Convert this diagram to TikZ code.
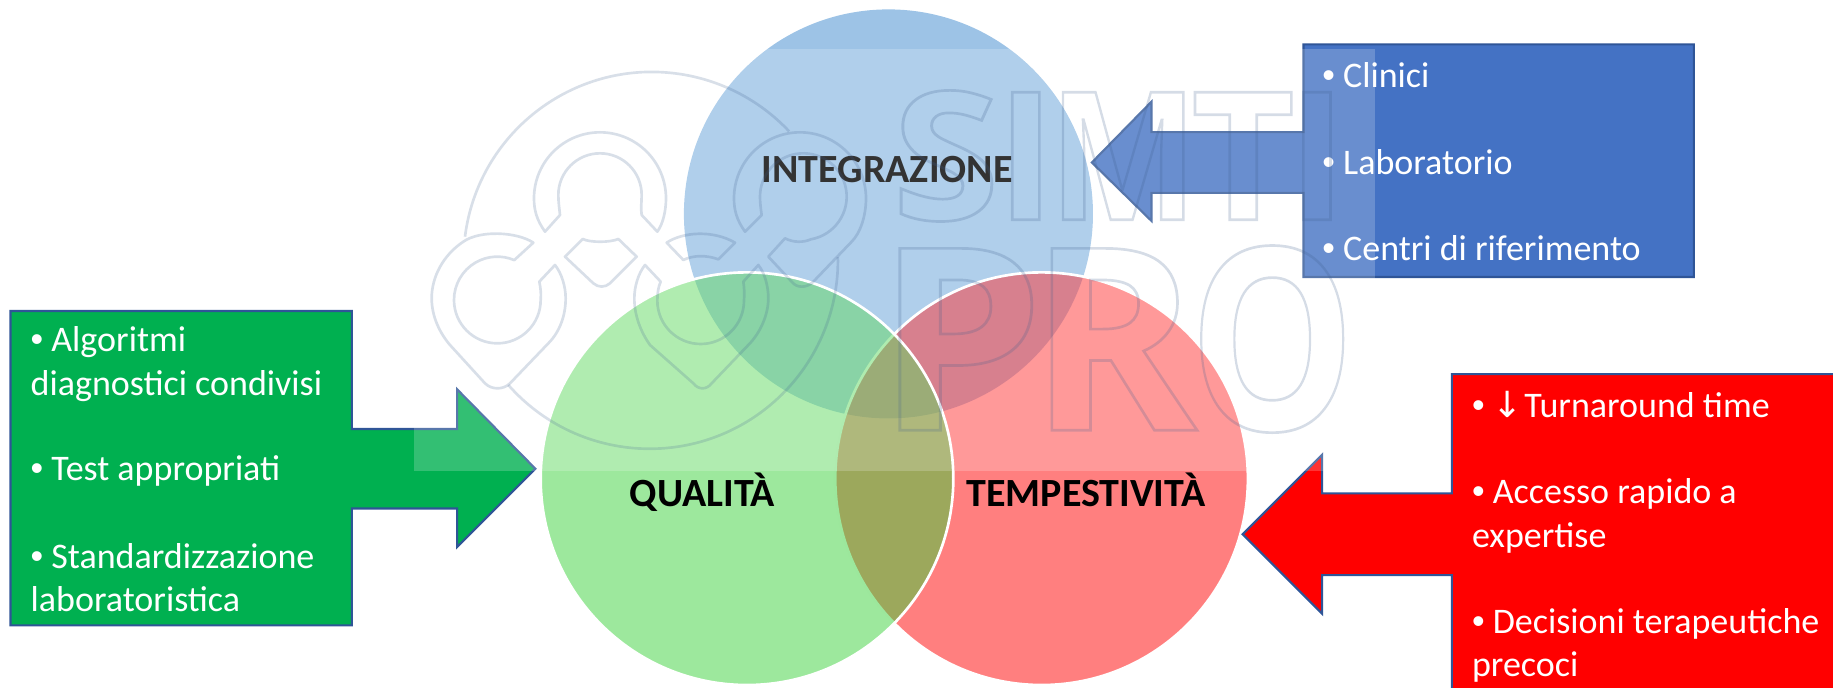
\documentclass[tikz,border=0pt]{standalone}
\usepackage{fontspec}
\setmainfont{Carlito}
\newfontfamily\wmfont{Open Sans}
\newfontfamily\bulfont{Liberation Sans}
\newfontfamily\arrowfont{DejaVu Sans}
\definecolor{bluefill}{HTML}{4472C4}
\definecolor{greenfill}{HTML}{00B050}
\definecolor{edgeblue}{HTML}{2F5597}
\definecolor{vennblue}{HTML}{5B9BD5}
\definecolor{venngreen}{HTML}{3BD13B}
\definecolor{wmline}{HTML}{3F5F8F}
\tikzset{
  callout/.style={draw=edgeblue,line width=1.6pt,line join=miter},
  venn/.style={circle,minimum size=306.8pt,inner sep=0pt},
  vennb/.style={circle,minimum size=309.5pt,inner sep=0pt,draw=white,draw opacity=1,line width=2pt},
  item/.style={anchor=base west,text=white,inner sep=0pt,font=\fontsize{27}{33}\selectfont},
  vlabel/.style={anchor=base,inner sep=0pt,font=\fontsize{30}{36}\selectfont\bfseries},
  wm/.style={draw=wmline,draw opacity=.2,line width=2pt,line join=round},
  wmsmall/.style={inner sep=0pt,anchor=base west,transform shape,font=\wmfont\bfseries\fontsize{134}{134}\selectfont},
  wmbig/.style={inner sep=0pt,anchor=base west,transform shape,font=\wmfont\bfseries\fontsize{191}{191}\selectfont},
}
\newcommand{\outlined}[1]{\special{pdf:code q 1 Tr 2 w 0.247 0.373 0.561 RG}#1\special{pdf:code Q}}
\newcommand{\bul}{{\bulfont •}}
\begin{document}
\begin{tikzpicture}[x=0.87675pt,y=-0.87675pt]
\useasboundingbox (0,0) rectangle (1568,587.7);
\clip (0,0) rectangle (1568,587.7);
% Venn circles
\node[venn,fill=vennblue,fill opacity=.6] (cblue) at (760,183) {};
\node[vennb,fill=red,fill opacity=.5] (cred) at (891,409.5) {};
\node[vennb,fill=venngreen,fill opacity=.5] (cgreen) at (639,409.5) {};
\node[vlabel,text=black] (lint) at (759,156) {INTEGRAZIONE};
\node[vlabel] (lqua) at (601,433) {QUALITÀ};
\node[vlabel] (ltem) at (929,433) {TEMPESTIVITÀ};
% Callouts
\fill[greenfill] (9,266) -- (301,266) -- (301,367) -- (391,367) -- (391,333) -- (458,401) -- (391,468) -- (391,435) -- (301,435) -- (301,535) -- (9,535) -- cycle;
\draw[callout] (9,266) -- (301,266) -- (301,367) -- (391,367) -- (391,333) -- (458,401) -- (391,468) -- (391,435) -- (301,435) -- (301,535) -- (9,535) -- cycle;
\filldraw[callout,fill=bluefill] (1115,38) -- (1449,38) -- (1449,237) -- (1115,237) -- (1115,165) -- (985,165) -- (985,189) -- (934,139) -- (985,87) -- (985,113) -- (1115,113) -- cycle;
\filldraw[callout,fill=red] (1242,320) -- (1600,320) -- (1600,620) -- (1242,620) -- (1242,492) -- (1131,492) -- (1131,525) -- (1063,457) -- (1131,389) -- (1131,422) -- (1242,422) -- cycle;
% Texts
\node[item] (g1) at (26,301) {\bul{} Algoritmi};
\node[item] (g2) at (26,338) {diagnostici condivisi};
\node[item] (g3) at (26,411) {\bul{} Test appropriati};
\node[item] (g4) at (26,486) {\bul{} Standardizzazione};
\node[item] (g5) at (26,523) {laboratoristica};
\node[item] (b1) at (1131,75) {\bul{} Clinici};
\node[item] (b2) at (1131,149) {\bul{} Laboratorio};
\node[item] (b3) at (1131,223) {\bul{} Centri di riferimento};
\node[item] (r1) at (1259,357) {\bul{} {\arrowfont↓}\kern1pt Turnaround time};
\node[item] (r2) at (1259,431) {\bul{} Accesso rapido a};
\node[item] (r3) at (1259,468) {expertise};
\node[item] (r4) at (1259,542) {\bul{} Decisioni terapeutiche};
\node[item] (r5) at (1259,579) {precoci};
% Watermark band
\fill[white,fill opacity=.2] (354,42) rectangle (1176,403);
% Watermark letters
\begin{scope}[draw opacity=.22]
\node[wmsmall,xscale=1.09] (w1) at (763,188) {\outlined{S}};
\node[wmsmall] (w2) at (852,188) {\outlined{I}};
\node[wmsmall,xscale=.883] (w3) at (897,188) {\outlined{M}};
\node[wmsmall] (w4) at (1019,188) {\outlined{T}};
\node[wmsmall] (w5) at (1101,188) {\outlined{I}};
\node[wmbig,xscale=1.05] (w6) at (749,368) {\outlined{P}};
\node[wmbig] (w7) at (880,368) {\outlined{R}};
\node[wmbig,xscale=.82] (w8) at (1017,368) {\outlined{O}};
\end{scope}
% Watermark logo
\begin{scope}[shift={(315pt,-45pt)},x=.25pt,y=-.25pt]
\draw[wm] (135,530) arc[start angle=187.2,end angle=316.8,radius=565];
\draw[wm] (265,975) arc[start angle=138.6,end angle=-1,radius=565];
\draw[wm] (375,515) .. controls (350,480) and (342,450) .. (342,415) arc[start angle=180,end angle=360,radius=198] .. controls (738,450) and (730,490) .. (712,515) -- (665,465) .. controls (662,445) and (665,425) .. (665,405) arc[start angle=360,end angle=180,radius=125] .. controls (415,425) and (418,445) .. (420,465) -- cycle;
\draw[wm] (975,515) .. controls (950,480) and (942,450) .. (942,415) arc[start angle=180,end angle=360,radius=198] .. controls (1338,470) and (1320,520) .. (1295,545) -- (1180,665) .. controls (1160,685) and (1130,685) .. (1115,665) -- (1045,590) -- (1095,535) .. controls (1120,548) and (1150,548) .. (1172.6,538) arc[start angle=80,end angle=-180,radius=130] .. controls (1020,425) and (1022,445) .. (1025,465) -- cycle;
\draw[wm] (340,548) .. controls (290,515) and (180,510) .. (130,545) .. controls (70,585) and (35,650) .. (35,715) .. controls (35,770) and (60,820) .. (90,855) -- (195,970) .. controls (215,990) and (250,990) .. (270,970) -- (385,850) .. controls (420,815) and (437,765) .. (437,715) .. controls (437,680) and (425,640) .. (405,615) -- (358,665) .. controls (365,700) and (362,715) .. (362,720) arc[start angle=0,end angle=293,radius=130] -- cycle;
\draw[wm] (675,615) .. controls (655,640) and (643,680) .. (643,715) .. controls (643,770) and (665,820) .. (690,855) -- (820,970) .. controls (835,990) and (860,990) .. (875,970) -- (985,855) .. controls (1020,820) and (1045,765) .. (1045,715) .. controls (1045,680) and (1035,640) .. (1015,615) -- (970,665) .. controls (975,700) and (972,715) .. (972,722) arc[start angle=0,end angle=180,radius=130] .. controls (712,700) and (715,680) .. (722,665) -- cycle;
\draw[wm] (740,548) .. controls (790,515) and (880,510) .. (945,548) -- (895,598) .. controls (860,585) and (820,585) .. (790,600) -- cycle;
\draw[wm] (435,590) -- (488,537) .. controls (510,548) and (570,548) .. (595,537) -- (650,590) -- (570,670) .. controls (555,683) and (535,683) .. (520,670) -- cycle;
\end{scope}
\end{tikzpicture}
\end{document}
